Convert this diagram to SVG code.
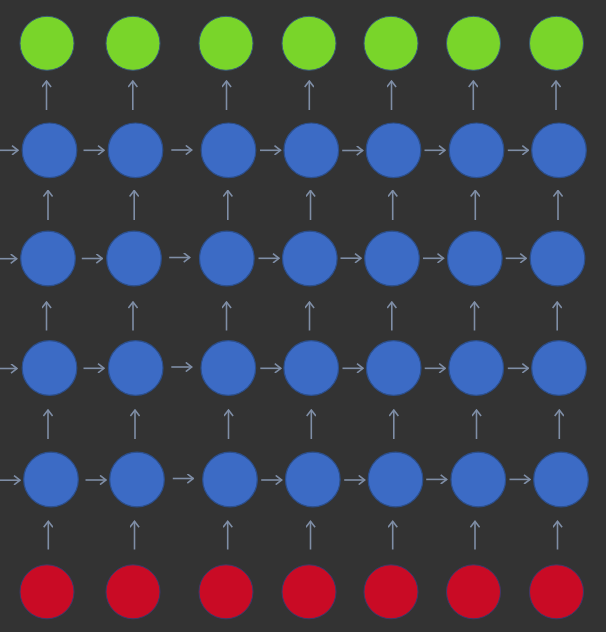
<svg xmlns="http://www.w3.org/2000/svg" width="606" height="632" viewBox="0 0 606 632">
<style>
.bg{fill:#333333}
.g{fill:#79d52a;stroke:#3a5a7a;stroke-width:1}
.b{fill:#3c6bc5;stroke:#2c4f8c;stroke-width:1.2}
.r{fill:#c90b25;stroke:#3a3a6a;stroke-width:1}
.e{stroke:#7f8ea6;stroke-width:1.6;fill:none;marker-end:url(#ah)}
</style>
<defs>
<marker id="ah" markerUnits="userSpaceOnUse" viewBox="0 0 10 10" refX="9" refY="5" markerWidth="10" markerHeight="10" orient="auto">
<path d="M3,0.4 L9,5 L3,9.6" fill="none" stroke="#7f8ea6" stroke-width="1.6"/>
</marker>
</defs>
<rect class="bg" width="606" height="632"/>
<g id="connectors">
<!-- row 1 y=150.3 -->
<line class="e" x1="0" y1="150.3" x2="18" y2="150.3"/>
<line class="e" x1="83.5" y1="150.3" x2="104" y2="150.3"/>
<line class="e" x1="171.3" y1="150" x2="191.8" y2="150"/>
<line class="e" x1="260" y1="150.3" x2="280.5" y2="150.3"/>
<line class="e" x1="342.2" y1="150.5" x2="362.7" y2="150.5"/>
<line class="e" x1="424.5" y1="150.3" x2="445" y2="150.3"/>
<line class="e" x1="507.8" y1="150.3" x2="528.3" y2="150.3"/>
<!-- row 2 y=258.5 -->
<line class="e" x1="0" y1="258.7" x2="16.7" y2="258.7"/>
<line class="e" x1="81.8" y1="258.5" x2="102.3" y2="258.5"/>
<line class="e" x1="169.2" y1="257.5" x2="189.7" y2="257.5"/>
<line class="e" x1="258.5" y1="258.3" x2="279" y2="258.3"/>
<line class="e" x1="340.5" y1="258.2" x2="361" y2="258.2"/>
<line class="e" x1="423" y1="258.3" x2="443.5" y2="258.3"/>
<line class="e" x1="505.7" y1="258.3" x2="526.2" y2="258.3"/>
<!-- row 3 y=368 -->
<line class="e" x1="0" y1="368.5" x2="17" y2="368.5"/>
<line class="e" x1="83.5" y1="368.3" x2="104" y2="368.3"/>
<line class="e" x1="171.3" y1="367" x2="191.8" y2="367"/>
<line class="e" x1="260.3" y1="368.3" x2="280.8" y2="368.3"/>
<line class="e" x1="342.5" y1="368.3" x2="363" y2="368.3"/>
<line class="e" x1="424.7" y1="368.3" x2="445.2" y2="368.3"/>
<line class="e" x1="507.8" y1="368.3" x2="528.3" y2="368.3"/>
<!-- row 4 y=479.5 -->
<line class="e" x1="0" y1="480.2" x2="20" y2="480.2"/>
<line class="e" x1="85.5" y1="480" x2="106" y2="480"/>
<line class="e" x1="172.8" y1="478.5" x2="193.3" y2="478.5"/>
<line class="e" x1="261.2" y1="480" x2="281.7" y2="480"/>
<line class="e" x1="344.2" y1="480" x2="364.7" y2="480"/>
<line class="e" x1="426.2" y1="479.4" x2="446.7" y2="479.4"/>
<line class="e" x1="509.5" y1="479.4" x2="530" y2="479.4"/>
<!-- vertical row1 -> green -->
<line class="e" x1="46.5" y1="110" x2="46.5" y2="81"/>
<line class="e" x1="132.8" y1="110" x2="132.8" y2="81"/>
<line class="e" x1="226.5" y1="110" x2="226.5" y2="81"/>
<line class="e" x1="309.3" y1="110" x2="309.3" y2="81"/>
<line class="e" x1="391.5" y1="110" x2="391.5" y2="81"/>
<line class="e" x1="473.3" y1="110" x2="473.3" y2="81"/>
<line class="e" x1="556" y1="110" x2="556" y2="81"/>
<!-- row2 -> row1 -->
<line class="e" x1="48" y1="220" x2="48" y2="190.5"/>
<line class="e" x1="134.2" y1="220" x2="134.2" y2="190.5"/>
<line class="e" x1="227.8" y1="220" x2="227.8" y2="190.5"/>
<line class="e" x1="310.5" y1="220" x2="310.5" y2="190.5"/>
<line class="e" x1="392.7" y1="220" x2="392.7" y2="190.5"/>
<line class="e" x1="475.3" y1="220" x2="475.3" y2="190.5"/>
<line class="e" x1="558" y1="220" x2="558" y2="190.5"/>
<!-- row3 -> row2 -->
<line class="e" x1="46.5" y1="330.5" x2="46.5" y2="302"/>
<line class="e" x1="133" y1="330.5" x2="133" y2="302"/>
<line class="e" x1="226.5" y1="330.5" x2="226.5" y2="302"/>
<line class="e" x1="309.5" y1="330.5" x2="309.5" y2="302"/>
<line class="e" x1="391.8" y1="330.5" x2="391.8" y2="302"/>
<line class="e" x1="474.5" y1="330.5" x2="474.5" y2="302"/>
<line class="e" x1="557.2" y1="330.5" x2="557.2" y2="302"/>
<!-- row4 -> row3 -->
<line class="e" x1="48" y1="439" x2="48" y2="410"/>
<line class="e" x1="135" y1="439" x2="135" y2="410"/>
<line class="e" x1="228.5" y1="439" x2="228.5" y2="410"/>
<line class="e" x1="311.3" y1="439" x2="311.3" y2="410"/>
<line class="e" x1="393.8" y1="439" x2="393.8" y2="410"/>
<line class="e" x1="476.5" y1="439" x2="476.5" y2="410"/>
<line class="e" x1="559.3" y1="439" x2="559.3" y2="410"/>
<!-- red -> row4 -->
<line class="e" x1="48.3" y1="549.5" x2="48.3" y2="521.3"/>
<line class="e" x1="134.5" y1="549.5" x2="134.5" y2="521.3"/>
<line class="e" x1="227.7" y1="549.5" x2="227.7" y2="521.3"/>
<line class="e" x1="310.5" y1="549.5" x2="310.5" y2="521.3"/>
<line class="e" x1="392.7" y1="549.5" x2="392.7" y2="521.3"/>
<line class="e" x1="475" y1="549.5" x2="475" y2="521.3"/>
<line class="e" x1="557.5" y1="549.5" x2="557.5" y2="521.3"/>
</g>
<g id="out1"><circle class="g" cx="47" cy="43.3" r="27"/></g>
<g id="out2"><circle class="g" cx="133" cy="43.3" r="27"/></g>
<g id="out3"><circle class="g" cx="226" cy="43.3" r="27"/></g>
<g id="out4"><circle class="g" cx="309" cy="43.3" r="27"/></g>
<g id="out5"><circle class="g" cx="391" cy="43.3" r="27"/></g>
<g id="out6"><circle class="g" cx="473.5" cy="43.3" r="27"/></g>
<g id="out7"><circle class="g" cx="556.5" cy="43.3" r="27"/></g>
<g id="h1_1"><circle class="b" cx="49.5" cy="150.3" r="27.3"/></g>
<g id="h1_2"><circle class="b" cx="135.5" cy="150.3" r="27.3"/></g>
<g id="h1_3"><circle class="b" cx="228.5" cy="150.3" r="27.3"/></g>
<g id="h1_4"><circle class="b" cx="311.3" cy="150.3" r="27.3"/></g>
<g id="h1_5"><circle class="b" cx="393.5" cy="150.3" r="27.3"/></g>
<g id="h1_6"><circle class="b" cx="476.5" cy="150.3" r="27.3"/></g>
<g id="h1_7"><circle class="b" cx="559" cy="150.3" r="27.3"/></g>
<g id="h2_1"><circle class="b" cx="48" cy="258.5" r="27.3"/></g>
<g id="h2_2"><circle class="b" cx="134" cy="258.5" r="27.3"/></g>
<g id="h2_3"><circle class="b" cx="226.8" cy="258.5" r="27.3"/></g>
<g id="h2_4"><circle class="b" cx="309.8" cy="258.5" r="27.3"/></g>
<g id="h2_5"><circle class="b" cx="392" cy="258.5" r="27.3"/></g>
<g id="h2_6"><circle class="b" cx="474.8" cy="258.5" r="27.3"/></g>
<g id="h2_7"><circle class="b" cx="557.5" cy="258.5" r="27.3"/></g>
<g id="h3_1"><circle class="b" cx="49.5" cy="368" r="27.3"/></g>
<g id="h3_2"><circle class="b" cx="135.7" cy="368" r="27.3"/></g>
<g id="h3_3"><circle class="b" cx="228.3" cy="368" r="27.3"/></g>
<g id="h3_4"><circle class="b" cx="311.2" cy="368" r="27.3"/></g>
<g id="h3_5"><circle class="b" cx="393.7" cy="368" r="27.3"/></g>
<g id="h3_6"><circle class="b" cx="476.2" cy="368" r="27.3"/></g>
<g id="h3_7"><circle class="b" cx="559" cy="368" r="27.3"/></g>
<g id="h4_1"><circle class="b" cx="51" cy="479.5" r="27.3"/></g>
<g id="h4_2"><circle class="b" cx="137" cy="479.5" r="27.3"/></g>
<g id="h4_3"><circle class="b" cx="230" cy="479.5" r="27.3"/></g>
<g id="h4_4"><circle class="b" cx="312.8" cy="479.5" r="27.3"/></g>
<g id="h4_5"><circle class="b" cx="395.5" cy="479.5" r="27.3"/></g>
<g id="h4_6"><circle class="b" cx="478.3" cy="479.5" r="27.3"/></g>
<g id="h4_7"><circle class="b" cx="561" cy="479.5" r="27.3"/></g>
<g id="in1"><circle class="r" cx="47" cy="591.8" r="27"/></g>
<g id="in2"><circle class="r" cx="133" cy="591.8" r="27"/></g>
<g id="in3"><circle class="r" cx="226" cy="591.8" r="27"/></g>
<g id="in4"><circle class="r" cx="309" cy="591.8" r="27"/></g>
<g id="in5"><circle class="r" cx="391" cy="591.8" r="27"/></g>
<g id="in6"><circle class="r" cx="473.5" cy="591.8" r="27"/></g>
<g id="in7"><circle class="r" cx="556.5" cy="591.8" r="27"/></g>
</svg>
